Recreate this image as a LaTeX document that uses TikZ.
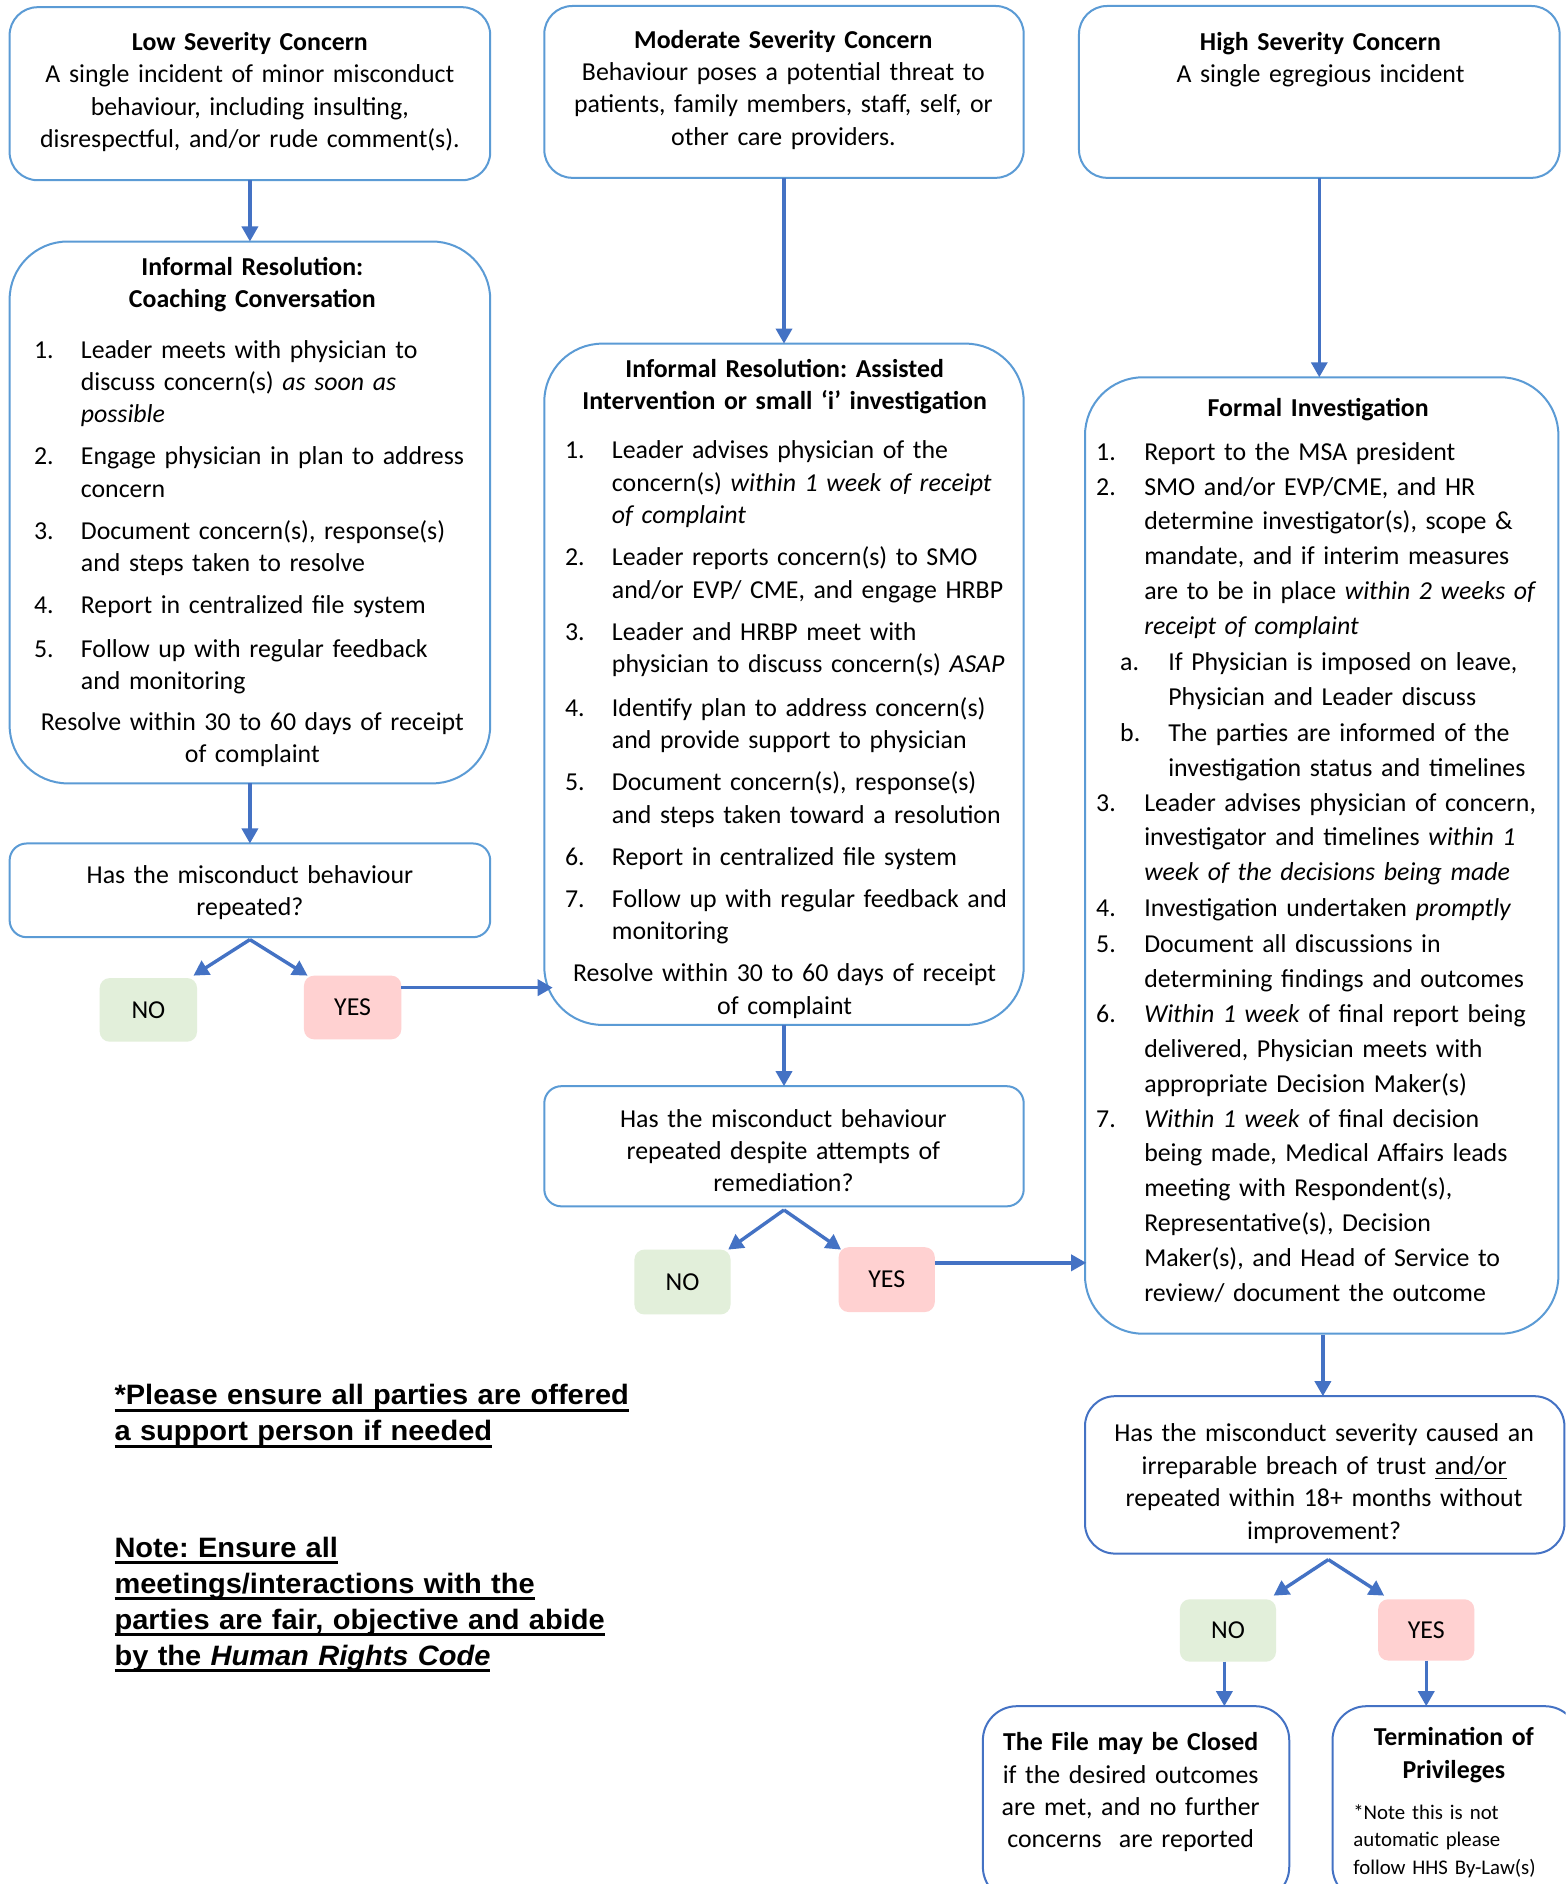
\documentclass[tikz,border=0pt]{standalone}
\usepackage{fontspec}
\setmainfont{Carlito}
\newfontfamily\notefont[FakeStretch=1.035]{Liberation Sans}
\usetikzlibrary{arrows.meta,calc}
\definecolor{lblue}{HTML}{5B9BD5}
\definecolor{dblue}{HTML}{4472C4}
\definecolor{nofill}{HTML}{E2EFDA}
\definecolor{yesfill}{HTML}{FFD1D1}
\newcommand\mkbox[7]{\node[#1,minimum width={(#5-#3)*0.6pt},minimum height={(#6-#4)*0.6pt}] (#2) at ({(#3+#5)/2},{(#4+#6)/2}) {#7};}
\newcommand\myuline[1]{\leavevmode\setbox0\hbox{#1}\rlap{\vrule width\wd0 height -2.0pt depth 3.5pt}\box0}
\tikzset{
  box/.style={draw=lblue, line width=1pt, rounded corners=14pt, inner sep=0pt, outer sep=0pt},
  bigbox/.style={box, rounded corners=29pt},
  qbox/.style={box, rounded corners=8.5pt},
  dqbox/.style={box, draw=dblue, rounded corners=15pt},
  endbox/.style={box, draw=dblue, rounded corners=17pt},
  nobox/.style={fill=nofill, rounded corners=5pt, inner sep=0pt, outer sep=0pt, font=\fontsize{12.9pt}{16.2pt}\selectfont},
  yesbox/.style={nobox, fill=yesfill},
  arr/.style={draw=dblue, line width=1.7pt, -{Triangle[width=8pt,length=7.5pt]}},
  ctext/.style={inner sep=0pt, anchor=base, align=center, text width=250pt, font=\fontsize{12.9pt}{16.2pt}\selectfont},
  inum/.style={inner sep=0pt, anchor=base west, font=\fontsize{12.9pt}{16.2pt}\selectfont},
  itxt/.style={inner sep=0pt, anchor=base west, align=left, text width=260pt, font=\fontsize{12.9pt}{16.2pt}\selectfont},
  itxtr/.style={itxt, font=\fontsize{12.9pt}{17.4pt}\selectfont},
  notetext/.style={inner sep=0pt, anchor=base west, align=left, text width=330pt, font=\notefont\bfseries\fontsize{14pt}{18pt}\selectfont},
  smalltext/.style={inner sep=0pt, anchor=base west, align=left, text width=140pt, font=\fontsize{10.4pt}{13.8pt}\selectfont}
}
\begin{document}
\frenchspacing
\begin{tikzpicture}[x=0.6pt,y=-0.6pt]
\useasboundingbox (0,0) rectangle (1303,1568);
\clip (0,0) rectangle (1303,1568);
\fill[white] (0,0) rectangle (1303,1568);

% ---------- boxes ----------
\mkbox{box}{low}{8}{6}{408}{150}{}
\mkbox{box}{mod}{453}{5}{852}{148}{}
\mkbox{box}{high}{898}{5}{1298}{148}{}
\mkbox{bigbox}{infL}{8}{201}{408}{652}{}
\mkbox{bigbox}{infM}{453}{286}{852}{853}{}
\mkbox{bigbox}{formal}{903}{314}{1297}{1110}{}
\mkbox{qbox}{qL}{8}{702}{408}{780}{}
\mkbox{qbox}{qM}{453}{904}{852}{1004}{}
\mkbox{dqbox}{qR}{903}{1162}{1302}{1293}{}
\mkbox{nobox}{noL}{83}{814}{164}{867}{NO}
\mkbox{yesbox}{yesL}{253}{812}{334}{865}{YES}
\mkbox{nobox}{noM}{528}{1040}{608}{1094}{NO}
\mkbox{yesbox}{yesM}{698}{1038}{778}{1092}{YES}
\mkbox{nobox}{noR}{982}{1331}{1062}{1383}{NO}
\mkbox{yesbox}{yesR}{1147}{1331}{1227}{1382}{YES}
\mkbox{endbox}{closed}{818}{1420}{1073}{1582}{}
\mkbox{endbox}{term}{1109}{1420}{1314}{1582}{}

% ---------- top texts ----------
\node[ctext] (lowt) at (208,42) {\textbf{Low Severity Concern}\\A single incident of minor misconduct\\behaviour, including insulting,\\disrespectful, and/or rude comment(s).};
\node[ctext] (modt) at (652,40) {\textbf{Moderate Severity Concern}\\Behaviour poses a potential threat to\\patients, family members, staff, self, or\\other care providers.};
\node[ctext] (hight) at (1099,42) {\textbf{High Severity Concern}\\A single egregious incident};

% ---------- left informal ----------
\node[ctext] (infLt) at (210,229) {\textbf{Informal Resolution:}\\\textbf{Coaching Conversation}};
\node[inum] (l1n) at (28,298) {1.};
\node[itxt] (l1) at (67,298) {Leader meets with physician to\\discuss concern(s) \textit{as soon as}\\\textit{possible}};
\node[inum] (l2n) at (28,387) {2.};
\node[itxt] (l2) at (67,387) {Engage physician in plan to address\\concern};
\node[inum] (l3n) at (28,449) {3.};
\node[itxt] (l3) at (67,449) {Document concern(s), response(s)\\and steps taken to resolve};
\node[inum] (l4n) at (28,511) {4.};
\node[itxt] (l4) at (67,511) {Report in centralized file system};
\node[inum] (l5n) at (28,547) {5.};
\node[itxt] (l5) at (67,547) {Follow up with regular feedback\\and monitoring};
\node[ctext] (resL) at (210,608) {Resolve within 30 to 60 days of receipt\\of complaint};

% ---------- middle informal ----------
\node[ctext] (infMt) at (653,314) {\textbf{Informal Resolution: Assisted}\\\textbf{Intervention or small ‘i’ investigation}};
\node[inum] (m1n) at (470,382) {1.};
\node[itxt] (m1) at (509,382) {Leader advises physician of the\\concern(s) \textit{within 1 week of receipt}\\\textit{of complaint}};
\node[inum] (m2n) at (470,471) {2.};
\node[itxt] (m2) at (509,471) {Leader reports concern(s) to SMO\\and/or EVP/ CME, and engage HRBP};
\node[inum] (m3n) at (470,533) {3.};
\node[itxt] (m3) at (509,533) {Leader and HRBP meet with\\physician to discuss concern(s) \textit{ASAP}};
\node[inum] (m4n) at (470,596) {4.};
\node[itxt] (m4) at (509,596) {Identify plan to address concern(s)\\and provide support to physician};
\node[inum] (m5n) at (470,658) {5.};
\node[itxt] (m5) at (509,658) {Document concern(s), response(s)\\and steps taken toward a resolution};
\node[inum] (m6n) at (470,720) {6.};
\node[itxt] (m6) at (509,720) {Report in centralized file system};
\node[inum] (m7n) at (470,755) {7.};
\node[itxt] (m7) at (509,755) {Follow up with regular feedback and\\monitoring};
\node[ctext] (resM) at (653,817) {Resolve within 30 to 60 days of receipt\\of complaint};

% ---------- formal ----------
\node[ctext] (formalt) at (1097,347) {\textbf{Formal Investigation}};
\node[inum] (f1n) at (912,383) {1.};
\node[itxtr] (f1) at (952,383) {Report to the MSA president};
\node[inum] (f2n) at (912,412) {2.};
\node[itxtr] (f2) at (952,412) {SMO and/or EVP/CME, and HR\\determine investigator(s), scope \&\\mandate, and if interim measures\\are to be in place \textit{within 2 weeks of}\\\textit{receipt of complaint}};
\node[inum] (fan) at (932,558) {a.};
\node[itxtr] (fa) at (972,558) {If Physician is imposed on leave,\\Physician and Leader discuss};
\node[inum] (fbn) at (932,617) {b.};
\node[itxtr] (fb) at (972,617) {The parties are informed of the\\investigation status and timelines};
\node[inum] (f3n) at (912,675) {3.};
\node[itxtr] (f3) at (952,675) {Leader advises physician of concern,\\investigator and timelines \textit{within 1}\\\textit{week of the decisions being made}};
\node[inum] (f4n) at (912,763) {4.};
\node[itxtr] (f4) at (952,763) {Investigation undertaken \textit{promptly}};
\node[inum] (f5n) at (912,793) {5.};
\node[itxtr] (f5) at (952,793) {Document all discussions in\\determining findings and outcomes};
\node[inum] (f6n) at (912,851) {6.};
\node[itxtr] (f6) at (952,851) {\textit{Within 1 week} of final report being\\delivered, Physician meets with\\appropriate Decision Maker(s)};
\node[inum] (f7n) at (912,938) {7.};
\node[itxtr] (f7) at (952,938) {\textit{Within 1 week} of final decision\\being made, Medical Affairs leads\\meeting with Respondent(s),\\Representative(s), Decision\\Maker(s), and Head of Service to\\review/ document the outcome};

% ---------- questions ----------
\node[ctext] (qLt) at (208,735) {Has the misconduct behaviour\\repeated?};
\node[ctext] (qMt) at (652,938) {Has the misconduct behaviour\\repeated despite attempts of\\remediation?};
\node[ctext] (qRt) at (1102,1200) {Has the misconduct severity caused an\\irreparable breach of trust \underline{and/or}\\repeated within 18+ months without\\improvement?};

% ---------- end boxes ----------
\node[ctext] (closedt) at (941,1457) {\textbf{The File may be Closed}\\if the desired outcomes\\are met, and no further\\concerns\ \ are reported};
\node[ctext] (termt) at (1210,1453) {\textbf{Termination of}\\\textbf{Privileges}};
\node[smalltext] (termn) at (1126,1514) {*Note this is not\\automatic please\\follow HHS By-Law(s)};

% ---------- notes ----------
\node[notetext] (note1) at (95,1169) {\myuline{*Please ensure all parties are offered}\\\myuline{a support person if needed}};
\node[notetext] (note2) at (95,1296) {\myuline{Note: Ensure all}\\\myuline{meetings/interactions with the}\\\myuline{parties are fair, objective and abide}\\\myuline{by the \textit{Human Rights Code}}};

% ---------- connectors ----------
\draw[arr] (low.south) -- (infL.north);
\draw[arr] (mod.south) -- (infM.north);
\draw[arr] (high.south) -- (high.south |- formal.north);
\draw[arr] (infL.south) -- (qL.north);
\draw[arr] ($(qL.south)+(0,2)$) -- ($(noL.north east)+(-3,-2)$);
\draw[arr] ($(qL.south)+(0,2)$) -- ($(yesL.north west)+(3,0)$);
\draw[arr] ($(yesL.east)+(0,-16.5)$) -- ($(infM.west |- yesL.east)+(7,-16.5)$);
\draw[arr] (infM.south) -- (qM.north);
\draw[arr] ($(qM.south)+(0,3)$) -- ($(noM.north east)+(-2,0)$);
\draw[arr] ($(qM.south)+(0,3)$) -- ($(yesM.north west)+(2,2)$);
\draw[arr] ($(yesM.east)+(0,-14)$) -- ($(formal.west |- yesM.east)+(1,-14)$);
\draw[arr] ($(formal.south)+(1,1)$) -- ($(formal.south |- qR.north)+(1,0)$);
\draw[arr] ($(qR.south)+(3,5)$) -- ($(noR.north east)+(-2,-3)$);
\draw[arr] ($(qR.south)+(3,5)$) -- ($(yesR.north west)+(5,-3)$);
\draw[arr] ($(noR.south)+(-3,0)$) -- ($(noR.south |- closed.north)+(-3,0)$);
\draw[arr] (yesR.south) -- (yesR.south |- term.north);
\end{tikzpicture}
\end{document}
